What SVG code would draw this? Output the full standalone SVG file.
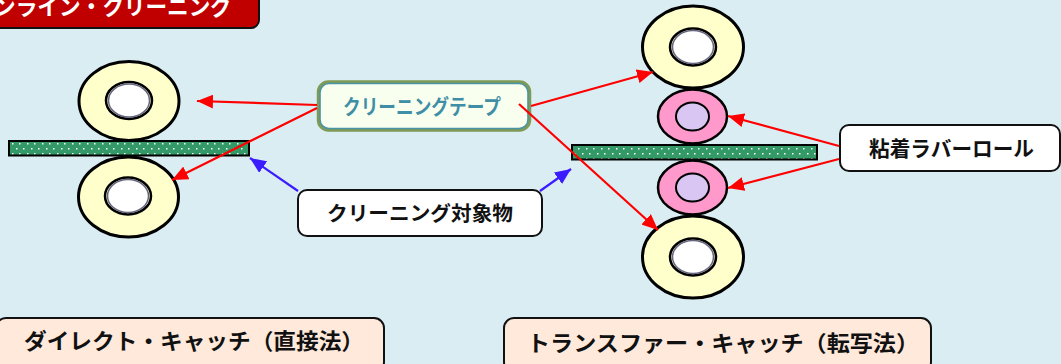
<svg xmlns="http://www.w3.org/2000/svg" width="1061" height="364" viewBox="0 0 1061 364">
<style>
text{font-family:"Noto Sans CJK JP","Noto Sans CJK SC",sans-serif;font-weight:700;fill:#111}
.box{fill:#fff;stroke:#111;stroke-width:2}
.foot{fill:#ffe9db;stroke:#111;stroke-width:2}
.roll{fill:#ffffcc;stroke:#000;stroke-width:3}
.core{fill:#fff;stroke:#66667f;stroke-width:1.500}
.ring{fill:none;stroke:#000;stroke-width:2.500}
.pink{fill:#ff99cc;stroke:#000;stroke-width:2.500}
.lilac{fill:#d9c6f2;stroke:#000;stroke-width:2}
.belt{fill:url(#dots);stroke:#000;stroke-width:2}
.red{fill:none;stroke:#f00;stroke-width:2.200;marker-end:url(#ar)}
.blue{fill:none;stroke:#3a1cff;stroke-width:2.200;marker-end:url(#ab)}
</style>
<defs>
<pattern id="dots" width="15" height="10" patternUnits="userSpaceOnUse" x="10" y="142">
<rect width="15" height="10" fill="#339966"/>
<rect x="2" y="1" width="1.500" height="1.500" fill="#fff"/>
<rect x="9" y="1" width="1.500" height="1.500" fill="#fff"/>
<rect x="6" y="6" width="1.500" height="1.500" fill="#fff"/>
<rect x="13" y="6" width="1.500" height="1.500" fill="#fff"/>
</pattern>
<marker id="ar" markerUnits="userSpaceOnUse" markerWidth="18" markerHeight="14" refX="16" refY="7" orient="auto"><path d="M0 0L16 7L0 14Z" fill="#f00"/></marker>
<marker id="ab" markerUnits="userSpaceOnUse" markerWidth="18" markerHeight="14" refX="16" refY="7" orient="auto"><path d="M0 0L16 7L0 14Z" fill="#3a1cff"/></marker>
</defs>
<rect width="1061" height="364" fill="#daedf3"/>
<g id="title"><rect x="-12" y="-12" width="271" height="40" rx="8" fill="#c00000" stroke="#111" stroke-width="2"/>
<text x="-6" y="15" font-size="23" textLength="238" lengthAdjust="spacingAndGlyphs" style="fill:#fff">ンライン・クリーニング</text></g>
<g id="roller-left-top"><ellipse class="roll" cx="129" cy="101" rx="50" ry="39.500"/><ellipse class="ring" cx="129" cy="100.500" rx="23" ry="18.500"/><ellipse class="core" cx="129" cy="100.500" rx="20.500" ry="16.500"/></g>
<g id="roller-left-bottom"><ellipse class="roll" cx="128.500" cy="197" rx="50" ry="40"/><ellipse class="ring" cx="128" cy="196" rx="23" ry="18.500"/><ellipse class="core" cx="128" cy="196" rx="20.500" ry="16.500"/></g>
<g id="belt-left"><rect class="belt" x="9" y="141" width="240" height="14.500"/></g>
<g id="roller-right-top"><ellipse class="roll" cx="693" cy="47" rx="50.500" ry="41"/><ellipse class="ring" cx="693" cy="47" rx="23" ry="18.500"/><ellipse class="core" cx="693" cy="47" rx="20.500" ry="16.500"/></g>
<g id="roller-right-bottom"><ellipse class="roll" cx="693" cy="257" rx="50.500" ry="41"/><ellipse class="ring" cx="693" cy="257" rx="23" ry="18.500"/><ellipse class="core" cx="693" cy="257" rx="20.500" ry="16.500"/></g>
<g id="pink-top"><ellipse class="pink" cx="692.500" cy="116.500" rx="34.500" ry="27"/><ellipse class="lilac" cx="692.500" cy="116.500" rx="16.500" ry="14"/></g>
<g id="pink-bottom"><ellipse class="pink" cx="692.500" cy="187.500" rx="34.500" ry="27"/><ellipse class="lilac" cx="692.500" cy="187.500" rx="16.500" ry="14"/></g>
<g id="belt-right"><rect class="belt" x="572" y="145" width="245" height="14.500"/></g>
<g id="tape"><rect x="318.500" y="82" width="211" height="48" rx="10" fill="#f8ffee" stroke="#7f9a55" stroke-width="3.500"/><rect x="320" y="83.500" width="208" height="45" rx="9" fill="none" stroke="#4a94a8" stroke-width="1.500"/>
<text x="343" y="114" font-size="21" textLength="158" lengthAdjust="spacingAndGlyphs" style="fill:#3f8ea6">クリーニングテープ</text></g>
<g id="target"><rect class="box" x="298" y="190" width="244" height="46" rx="9"/>
<text x="327" y="221" font-size="20" textLength="186" lengthAdjust="spacingAndGlyphs">クリーニング対象物</text></g>
<g id="rubber"><rect class="box" x="840" y="125" width="220" height="46" rx="9"/>
<text x="869" y="156" font-size="21" textLength="165" lengthAdjust="spacingAndGlyphs">粘着ラバーロール</text></g>
<g id="foot-left"><rect class="foot" x="-4" y="318" width="388" height="54" rx="10"/>
<text x="24" y="349" font-size="22" textLength="340" lengthAdjust="spacingAndGlyphs">ダイレクト・キャッチ（直接法）</text></g>
<g id="foot-right"><rect class="foot" x="504" y="318" width="427" height="54" rx="10"/>
<text x="527" y="351" font-size="22" textLength="392" lengthAdjust="spacingAndGlyphs">トランスファー・キャッチ（転写法）</text></g>
<g id="connectors">
<path class="red" d="M317 105L197 101"/>
<path class="red" d="M317 108L172 180"/>
<path class="red" d="M531 106L653 72"/>
<path class="red" d="M519 104L658 230"/>
<path class="red" d="M839 146L728 116"/>
<path class="red" d="M839 159L728 188"/>
<path class="blue" d="M298 191L250 158"/>
<path class="blue" d="M540 191L571 169"/>
</g>
</svg>
